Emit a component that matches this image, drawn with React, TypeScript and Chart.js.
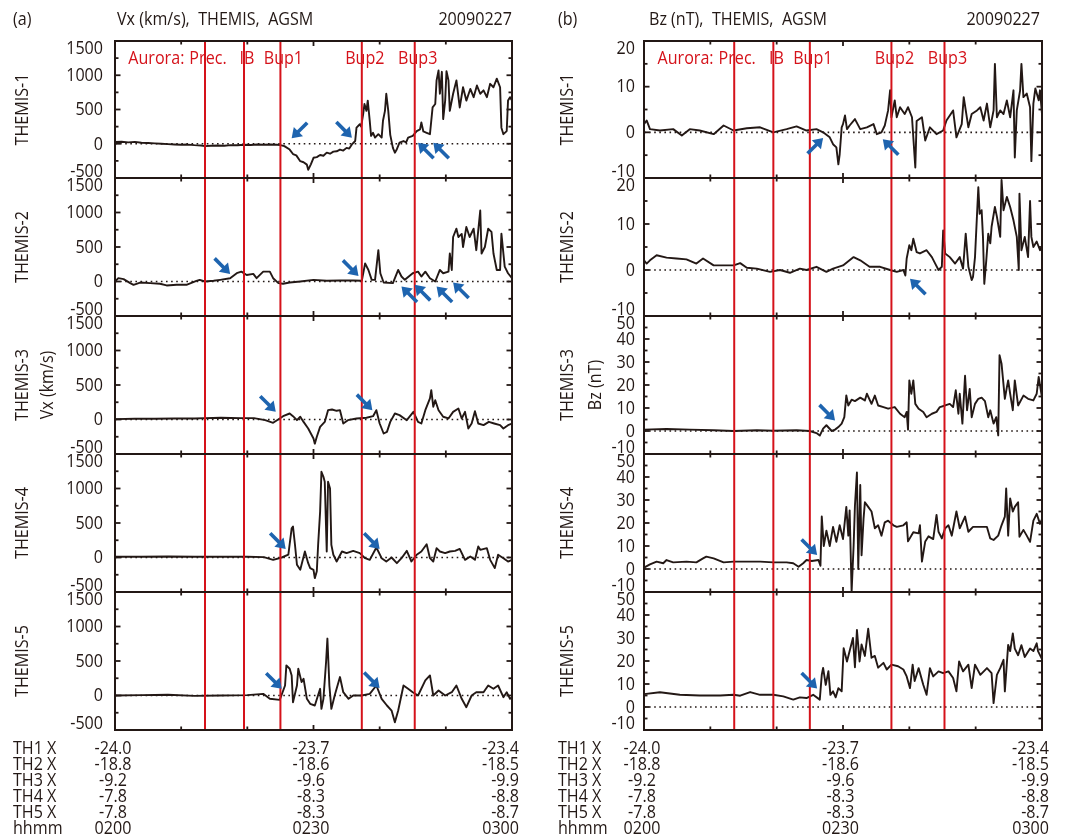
import React, { useEffect, useRef } from 'react';
import { Chart, registerables } from 'chart.js';

Chart.register(...registerables);

type Pair = [number, number];
type Arrow = [number, number, string];

// ---------------- time axis (minutes after 0200 UT) ----------------
const xMajorTicks = [0, 30, 60];
const xMinorTicks = [10, 20, 40, 50];
const hhmmLabels = ['0200', '0230', '0300'];
const th1XLabels = ['-24.0', '-23.7', '-23.4'];
const th2XLabels = ['-18.8', '-18.6', '-18.5'];
const th3XLabels = ['-9.2', '-9.6', '-9.9'];
const th4XLabels = ['-7.8', '-8.3', '-8.8'];
const th5XLabels = ['-7.8', '-8.3', '-8.7'];
const rowNames = ['TH1 X', 'TH2 X', 'TH3 X', 'TH4 X', 'TH5 X', 'hhmm'];

// ---------------- aurora event times ----------------
const eventTimes = [13.6, 19.5, 25.0, 37.3, 45.3];
const eventLabels = ['Prec.', 'IB', 'Bup1', 'Bup2', 'Bup3'];
const eventPrefix = 'Aurora:';

// ---------------- y ticks ----------------
const vxMajor = [-500, 0, 500, 1000, 1500];
const vxMinor = [-250, 250, 750, 1250];
const bzSmallMajor = [-10, 0, 10, 20];
const bzSmallMinor = [-5, 5, 15];
const bzLargeMajor = [-10, 0, 10, 20, 30, 40, 50];
const bzLargeMinor = [-5, 5, 15, 25, 35, 45];

// ---------------- Vx (km/s) ----------------
const vxTH1: Pair[] = [[0,25],[1,30],[2,20],[3,28],[4,15],[5,10],[6,5],[7,0],[8,-5],[9,-10],[10,-15],[11,-12],[12,-20],[13,-25],[13.6,-35],[14.5,-30],[15.5,-25],[16.5,-30],[17.5,-20],[18.5,-22],[19.5,-15],[20.5,-18],[21.5,-12],[22.5,-15],[23.5,-10],[24.5,-15],[25,-20],[25.6,-35],[26.4,-85],[26.9,-150],[27.4,-170],[28,-255],[28.5,-270],[29,-305],[29.2,-380],[29.6,-300],[30,-205],[30.5,-195],[31,-165],[31.5,-175],[32,-130],[32.5,-145],[33,-115],[33.5,-110],[34,-85],[34.5,-100],[35,-60],[35.4,-70],[35.8,-10],[36.3,40],[36.5,235],[37,285],[37.2,250],[37.5,430],[37.7,580],[38,480],[38.2,630],[38.5,335],[38.7,115],[39,160],[39.3,90],[39.8,140],[40.3,90],[40.5,335],[40.8,480],[41,730],[41.3,480],[41.6,130],[42,-60],[42.3,-130],[42.6,-80],[43,15],[43.6,40],[44,20],[44.3,90],[45,115],[45.6,185],[46.1,210],[46.3,310],[46.6,180],[47.1,160],[47.6,140],[48,530],[48.4,580],[48.6,925],[48.9,1070],[49.1,730],[49.4,1050],[49.6,360],[49.9,630],[50.1,1060],[50.4,925],[50.6,480],[51.1,730],[51.6,925],[52.1,530],[52.6,825],[53.1,630],[53.7,800],[54.2,680],[54.7,850],[55.2,730],[55.7,780],[56.2,680],[56.7,875],[57.2,825],[57.7,950],[58.2,825],[58.4,235],[58.7,140],[59.2,185],[59.4,630],[59.7,680],[60,630]];
const vxTH2: Pair[] = [[0,0],[0.5,48],[1.3,35],[2.3,-24],[2.8,-48],[3.8,-15],[5.3,-24],[6.8,-33],[7.8,-57],[9.3,-48],[10.8,-48],[12.3,10],[12.8,24],[13.6,0],[14.9,10],[15.9,24],[17.4,48],[18.4,120],[19.1,143],[19.9,95],[20.9,110],[21.4,48],[22.4,143],[23.4,143],[23.9,48],[24.7,-24],[25.4,-33],[26.4,-15],[28,0],[30,24],[32,10],[34,15],[36,15],[37.3,10],[37.8,263],[38.3,167],[38.8,24],[39.3,24],[39.8,454],[40.1,120],[40.6,-15],[42,-24],[42.8,167],[43.3,72],[43.8,24],[45,120],[45.8,143],[46.3,72],[46.9,143],[47.6,48],[48.4,0],[49.1,167],[49.6,120],[50.4,143],[50.6,406],[50.9,167],[51.1,645],[51.6,765],[51.9,645],[52.4,690],[52.6,500],[53.1,790],[53.6,645],[54.2,765],[54.6,454],[54.9,740],[55.2,1028],[55.4,406],[55.9,500],[56.4,765],[56.9,720],[57.2,406],[57.7,167],[58.2,167],[58.4,693],[58.9,215],[59.4,120],[60,48]];
const vxTH3: Pair[] = [[0,5],[3,10],[6,10],[9,15],[12,15],[13.6,20],[16,25],[19,20],[21,20],[22.7,-10],[23.9,-48],[24.9,15],[25.4,48],[26.4,87],[26.9,48],[27.5,-10],[28,40],[28.5,-35],[29.2,-130],[30,-276],[30.2,-350],[30.5,-250],[31,-107],[31.7,-35],[32.2,135],[32.8,145],[33.5,126],[34,135],[34.5,-58],[35.2,-10],[36.5,15],[38,25],[39,48],[39.5,135],[40,-58],[40.6,-203],[41.1,-180],[41.6,-35],[42.3,87],[43,63],[44.1,-10],[45.1,111],[45.8,-35],[46.3,-58],[46.9,135],[47.6,305],[47.8,426],[48.1,185],[48.4,280],[48.9,135],[49.6,40],[50.4,15],[51.1,111],[51.9,160],[52.4,15],[52.9,111],[53.4,-130],[53.9,-58],[54.4,121],[54.9,-58],[55.7,-82],[56.5,-35],[57.3,-58],[58.2,-82],[58.7,-130],[59.4,-82],[60,-58]];
const vxTH4: Pair[] = [[0,10],[4,10],[8,15],[12,10],[16,10],[20,10],[22.5,5],[23.9,-34],[25.2,0],[26.2,40],[26.7,424],[26.9,448],[27.2,185],[27.5,-106],[28,-178],[28.7,87],[29.2,-82],[29.5,-154],[30,-178],[30.2,-299],[30.5,-200],[30.7,185],[31,665],[31.2,1243],[31.5,1170],[31.7,1099],[32,87],[32.2,1099],[32.5,1000],[32.7,183],[33,40],[33.5,-58],[34.3,87],[35,63],[36,96],[37,63],[37.8,-10],[38.5,-34],[39.5,145],[40.3,-10],[41,-58],[41.8,0],[42.6,-82],[43.3,-10],[44.1,96],[44.8,-58],[45.6,40],[46.3,87],[47.1,193],[47.6,-10],[48.1,-58],[48.6,135],[49.1,87],[49.9,63],[50.6,87],[51.4,96],[52.1,125],[52.9,-34],[53.7,15],[54.4,-34],[54.9,159],[55.2,111],[56.2,135],[56.7,-34],[57.4,-154],[57.9,40],[58.7,-10],[59.4,-58],[60,-34]];
const vxTH5: Pair[] = [[0,0],[4,5],[8,10],[12,-5],[16,0],[20,5],[22.4,24],[23.4,-48],[24.9,-63],[25.7,145],[25.9,437],[26.4,388],[26.7,290],[26.9,-97],[27.5,145],[27.7,388],[28.2,194],[28.5,242],[29,-48],[29.5,-121],[30.2,-145],[31,97],[31.2,-194],[31.5,-48],[31.9,485],[32.1,825],[32.4,145],[32.7,-194],[33.2,0],[34,267],[34.5,48],[35.3,-48],[36,0],[37.3,0],[38.5,24],[39.5,145],[40.3,-48],[41.1,-145],[41.8,-218],[42.3,-388],[42.8,-218],[43.6,145],[44.3,97],[45,48],[45.8,0],[46.9,218],[47.6,291],[48.1,0],[48.9,73],[49.9,0],[50.9,48],[51.6,145],[52.4,-48],[53.1,-170],[53.9,0],[54.6,48],[55.7,48],[56.4,145],[57.2,97],[57.9,145],[58.7,-24],[59.2,48],[59.7,-48],[60,-24]];

// ---------------- Bz (nT) ----------------
const bzTH1: Pair[] = [[0,1.8],[0.4,2.6],[0.9,0.7],[2.4,0.4],[4.4,0.7],[5.7,-0.7],[6.9,0.7],[8.4,0.4],[10.5,-0.4],[12,1.5],[13.5,0.4],[15.5,0.9],[17.5,1.1],[19.5,0],[21.5,0.7],[23,1.3],[24.5,0.4],[26,0.7],[27,0],[28,-1.1],[28.5,-2.6],[29,-3.3],[29.3,-7],[29.5,-4.8],[29.8,1.1],[30,1.8],[30.3,3.7],[30.6,0.7],[31,1.5],[31.8,2.9],[32.6,0.7],[33.6,1.1],[34.6,1.8],[35.1,-0.4],[35.8,0],[36.3,1.5],[36.8,4.8],[37.1,9.2],[37.3,3.3],[37.8,7],[38.1,3.3],[38.6,5.5],[39.3,4],[39.8,5.5],[40.4,3.3],[40.9,-7.7],[41.1,2.5],[41.9,3.3],[42.4,-1.8],[43.1,1.1],[44.1,-0.4],[45.1,0.4],[45.6,2.6],[46.6,4.8],[47.1,-1.1],[47.9,1.8],[48.2,7.7],[48.9,1.1],[49.4,4],[50.2,4.8],[50.7,5.5],[51.2,2.6],[51.7,6.3],[52.2,1.1],[52.7,4.8],[52.9,15],[53.2,3.3],[53.7,4.8],[54.2,4],[54.7,7],[55.2,3.3],[55.7,9.2],[55.9,-5.5],[56.2,4.8],[56.7,9.2],[56.9,15],[57.2,7.7],[57.7,8.5],[58.2,5.5],[58.4,-6.3],[58.7,6.3],[59,9.6],[59.5,7],[59.7,9.2],[60,4]];
const bzTH2: Pair[] = [[0,2.1],[0.4,1.4],[0.9,2.1],[1.9,3.2],[3.4,2.7],[4.9,2.5],[6.4,2.3],[7.9,1.4],[8.9,2.5],[10.5,1],[12,1],[13.5,1],[14.5,1.5],[15.5,0.5],[17,0.3],[19,-0.4],[20.5,0],[22,-0.6],[23.5,0.3],[24.5,0],[26,0.7],[27.5,-0.4],[28.5,0.3],[30,1],[31.6,2.8],[32.6,2.1],[34,0.7],[35.6,0.7],[37.1,0],[38.1,-0.4],[39.1,0],[39.4,-1.2],[39.6,2.5],[40,5.4],[40.3,4.3],[40.6,6.8],[41.1,3.9],[41.6,3.6],[42.6,4.3],[43.4,2.8],[43.9,1.4],[44.4,0],[44.9,0.7],[45.1,8.6],[45.4,3.6],[46.1,2.8],[46.9,1.4],[47.6,2.8],[48.1,0.3],[48.5,7.9],[48.9,0.7],[49.4,-2.2],[49.6,-1.5],[49.9,2.8],[50.4,18],[50.6,12.2],[50.9,13],[51.1,7.2],[51.3,-3],[51.6,2.1],[51.9,7.9],[52.2,5.8],[52.4,9.4],[52.9,13.7],[53.2,11.6],[53.7,7.2],[53.9,19.6],[54.2,13],[54.7,15.9],[55.2,13.7],[55.7,10.8],[56.2,7.2],[56.5,0],[56.6,16.6],[56.9,4.3],[57.4,7.2],[57.9,2.8],[58.2,15],[58.4,7.2],[58.7,5],[59.2,6.2],[59.7,4.3],[60,5]];
const bzTH3: Pair[] = [[0,0.6],[3.4,0.9],[6.9,0.6],[10.5,0.3],[13.5,0],[17,0.3],[19.5,0.1],[23,0.3],[25,0],[26,-0.9],[26.5,-2],[27,1],[27.5,2.5],[28.3,0],[28.8,0.6],[29.3,1.7],[29.8,3.2],[30.2,6],[30.5,15.5],[30.8,11.1],[31.3,13.6],[31.8,13],[32.6,14.5],[33.3,13.3],[33.6,16.2],[34.3,11.8],[34.8,15.4],[35.3,11.1],[36.1,10.4],[36.8,9.7],[37.8,10.4],[38.6,7.5],[39.3,6],[39.6,8.3],[39.8,0.6],[40,22],[40.3,16.2],[40.6,22],[40.9,11.8],[41.4,9.7],[42.1,8.3],[42.6,6],[43.4,7.5],[44.1,8.3],[44.6,10.4],[45.4,11.1],[46.1,11.8],[46.6,10.4],[47,17.7],[47.4,7.5],[47.6,16.2],[48,3.2],[48.4,24],[48.7,9],[49.1,18.3],[49.4,6],[49.9,11.8],[50.4,14],[50.9,14.5],[51.4,13],[51.9,6],[52.2,9],[52.7,3.2],[53.1,6],[53.4,-1.9],[53.6,33],[53.9,29.3],[54.4,14],[54.7,19],[54.9,22],[55.2,16.2],[55.6,9],[55.9,22],[56.4,11.1],[57.2,15.4],[57.9,14],[58.7,13.3],[59.2,16.2],[59.5,23.5],[60,14.5]];
const bzTH4: Pair[] = [[0,0.6],[0.9,2],[1.9,3.2],[2.9,2.5],[3.4,3.9],[4.4,2.9],[6.4,3.2],[7.9,2.9],[8.9,4.6],[9.4,5.4],[10.5,4.6],[12,2.9],[13.5,3.2],[15.5,3.2],[17.5,3.2],[19.5,2.9],[21.5,2.9],[22.5,2.5],[23.3,1],[24,2.5],[24.5,3.9],[25.3,3.5],[26.3,3.9],[26.6,1.4],[26.8,22.8],[27.1,10],[27.5,16.7],[28,10],[28.5,18.3],[29,11.8],[29.5,19],[30,13],[30.5,27],[30.8,14.5],[31,25.5],[31.3,-9.9],[31.6,10.1],[31.8,27.5],[32.1,42],[32.3,0],[32.6,36.5],[32.8,6],[33.1,22],[33.3,29],[33.8,27],[34.3,25],[34.8,17.7],[35.3,19],[35.8,14.5],[36.3,20.3],[36.8,21],[37.6,19],[38.1,18.3],[39.1,19],[39.6,20.3],[39.8,12],[40.6,16],[41.4,15.5],[41.6,19],[41.9,3.2],[42.4,12],[42.9,14.2],[43.6,13],[44.1,23.5],[44.4,16.2],[44.9,13.3],[45.4,17.7],[45.9,19],[46.4,14.5],[47.1,25],[47.6,17.7],[48.4,22.8],[48.9,16.2],[49.6,18.3],[50.7,18.3],[51.7,18.3],[52.2,13.3],[52.7,12.6],[53.4,14.5],[53.9,19],[54.4,22.8],[54.6,35],[54.9,14.5],[55.2,30.7],[55.6,25],[55.9,27],[56.4,29],[56.6,14],[57.2,17],[57.7,14.5],[58.2,11.8],[58.7,21],[59.2,24],[59.7,19.6],[60,21.7]];
const bzTH5: Pair[] = [[0,5.6],[2.4,6.4],[5.4,5.3],[8.4,5],[11.5,5],[13.5,5.3],[14.5,4.9],[16,6.5],[17.5,5.3],[19.5,5.3],[21,4.6],[22.5,3.2],[23.5,4.2],[24.5,3.9],[25.5,5.3],[26.5,3.2],[26.8,14],[27,17],[27.4,9.6],[27.8,15.6],[28.1,5.3],[28.5,6.8],[28.9,4.2],[29.3,8.2],[29.8,6.8],[30.1,25.6],[30.6,19.8],[31,24.3],[31.5,30],[31.8,17.3],[32.1,33.5],[32.5,19.8],[32.8,27.2],[33.3,22.2],[33.8,34],[34.3,21.4],[34.8,22.2],[35.3,17.1],[36.1,19.2],[36.6,16.3],[37.3,18.4],[38.3,17.7],[39.1,16.3],[39.6,13.3],[40.1,8.2],[40.5,18.4],[40.8,11.3],[41.4,16.9],[42.1,9.7],[42.6,5.3],[43.1,16.9],[43.6,13.3],[44.4,15.5],[45.1,14.7],[45.9,15.5],[46.6,12.6],[47.1,6.8],[47.5,19.8],[48.1,15.5],[48.9,18.4],[49.4,8.2],[49.9,18.4],[50.7,14],[51.7,16.9],[52.4,14.7],[52.7,1.7],[53.2,14],[53.7,16.9],[54.2,20.5],[54.4,6.8],[54.9,27],[55.2,24.3],[55.6,32],[55.9,25.4],[56.4,22.5],[56.9,26.9],[57.4,21.7],[58.2,25.4],[58.7,24.3],[59.2,27.7],[59.4,24.3],[60,20.8]];

// ---------------- arrow marks: [minute, value, direction pointed] ----------------
const arrowsVx1: Arrow[] = [[26.7, 79, 'SW'], [35.8, 89, 'SE'], [45.8, 15, 'NW'], [48.1, 15, 'NW']];
const arrowsVx2: Arrow[] = [[17.4, 110, 'SE'], [36.8, 81, 'SE'], [43.3, -72, 'NW'], [45.3, -48, 'NW'], [48.6, -72, 'NW'], [51.1, -14, 'NW']];
const arrowsVx3: Arrow[] = [[24.3, 111, 'SE'], [38.9, 135, 'SE']];
const arrowsVx4: Arrow[] = [[25.8, 125, 'SE'], [40.0, 125, 'SE']];
const arrowsVx5: Arrow[] = [[25.2, 97, 'SE'], [40.0, 107, 'SE']];
const arrowsBz1: Arrow[] = [[27.0, -1.25, 'NE'], [36.0, -1.5, 'NW']];
const arrowsBz2: Arrow[] = [[40.1, -1.9, 'NW']];
const arrowsBz3: Arrow[] = [[28.8, 4.6, 'SE']];
const arrowsBz4: Arrow[] = [[26.1, 6.1, 'SE']];
const arrowsBz5: Arrow[] = [[26.1, 8, 'SE']];

// ---------------- styling / layout ----------------
const FONT_FAMILY = "'Open Sans', 'DejaVu Sans', sans-serif";
const FONT = `18.5px ${FONT_FAMILY}`;
const TEXT_SX = 0.87;
const INK = '#231815';
const RED = '#d5121a';
const BLUE = '#1e64af';
const PANEL_EDGES = [41, 178, 316, 454, 592, 730];
const PAD = 4;
const PAGE_H = 839;

const COLUMNS = [
  { canvasLeft: 0, canvasWidth: 540, plotLeft: 115, plotRight: 512, labelGap: 12, titleXs: [23, 47.5],
    tag: '(a)', tagX: 13, header: 'Vx (km/s),  THEMIS,  AGSM', headerX: 117, dateRight: 512, tableX: 13 },
  { canvasLeft: 540, canvasWidth: 541, plotLeft: 644, plotRight: 1042, labelGap: 9, titleXs: [568, 596],
    tag: '(b)', tagX: 558, header: 'Bz (nT),  THEMIS,  AGSM', headerX: 649, dateRight: 1040, tableX: 558 },
];
const DATE_TEXT = '20090227';

interface PanelSpec {
  col: number; row: number; series: Pair[]; yMin: number; yMax: number;
  major: number[]; minor: number[]; titles: string[]; arrows: Arrow[];
}

const PANELS: PanelSpec[] = [
  { col: 0, row: 0, series: vxTH1, yMin: -500, yMax: 1500, major: vxMajor, minor: vxMinor, titles: ['THEMIS-1'], arrows: arrowsVx1 },
  { col: 0, row: 1, series: vxTH2, yMin: -500, yMax: 1500, major: vxMajor, minor: vxMinor, titles: ['THEMIS-2'], arrows: arrowsVx2 },
  { col: 0, row: 2, series: vxTH3, yMin: -500, yMax: 1500, major: vxMajor, minor: vxMinor, titles: ['THEMIS-3', 'Vx (km/s)'], arrows: arrowsVx3 },
  { col: 0, row: 3, series: vxTH4, yMin: -500, yMax: 1500, major: vxMajor, minor: vxMinor, titles: ['THEMIS-4'], arrows: arrowsVx4 },
  { col: 0, row: 4, series: vxTH5, yMin: -500, yMax: 1500, major: vxMajor, minor: vxMinor, titles: ['THEMIS-5'], arrows: arrowsVx5 },
  { col: 1, row: 0, series: bzTH1, yMin: -10, yMax: 20, major: bzSmallMajor, minor: bzSmallMinor, titles: ['THEMIS-1'], arrows: arrowsBz1 },
  { col: 1, row: 1, series: bzTH2, yMin: -10, yMax: 20, major: bzSmallMajor, minor: bzSmallMinor, titles: ['THEMIS-2'], arrows: arrowsBz2 },
  { col: 1, row: 2, series: bzTH3, yMin: -10, yMax: 50, major: bzLargeMajor, minor: bzLargeMinor, titles: ['THEMIS-3', 'Bz (nT)'], arrows: arrowsBz3 },
  { col: 1, row: 3, series: bzTH4, yMin: -10, yMax: 50, major: bzLargeMajor, minor: bzLargeMinor, titles: ['THEMIS-4'], arrows: arrowsBz4 },
  { col: 1, row: 4, series: bzTH5, yMin: -10, yMax: 50, major: bzLargeMajor, minor: bzLargeMinor, titles: ['THEMIS-5'], arrows: arrowsBz5 },
];

const TABLE_ROWS: string[][] = [th1XLabels, th2XLabels, th3XLabels, th4XLabels, th5XLabels, hhmmLabels];

function geometry(p: PanelSpec) {
  const c = COLUMNS[p.col];
  const top = PANEL_EDGES[p.row];
  const bottom = PANEL_EDGES[p.row + 1];
  const cTop = p.row === 0 ? 0 : top - PAD;
  const cBottom = p.row === 4 ? PAGE_H : bottom + PAD;
  return {
    left: c.canvasLeft, top: cTop, width: c.canvasWidth, height: cBottom - cTop,
    padding: { left: c.plotLeft - c.canvasLeft, right: c.canvasLeft + c.canvasWidth - c.plotRight, top: top - cTop, bottom: cBottom - bottom },
  };
}

function line(ctx: CanvasRenderingContext2D, x1: number, y1: number, x2: number, y2: number) {
  ctx.beginPath();
  ctx.moveTo(x1, y1);
  ctx.lineTo(x2, y2);
  ctx.stroke();
}

function text(ctx: CanvasRenderingContext2D, s: string, x: number, y: number, align: CanvasTextAlign, rotate = false) {
  ctx.save();
  ctx.translate(x, y);
  if (rotate) ctx.rotate(-Math.PI / 2);
  ctx.scale(TEXT_SX, 1);
  ctx.textAlign = align;
  ctx.textBaseline = 'middle';
  ctx.fillText(s, 0, 0);
  ctx.restore();
}

const DIRS: Record<string, [number, number]> = { SE: [1, 1], SW: [-1, 1], NE: [1, -1], NW: [-1, -1] };

function drawArrow(ctx: CanvasRenderingContext2D, tx: number, ty: number, dir: string) {
  const d = DIRS[dir];
  const ux = d[0] / Math.SQRT2, uy = d[1] / Math.SQRT2;
  const len = 22, head = 9.5, half = 6.5;
  const sx = tx - ux * len, sy = ty - uy * len;
  const bx = tx - ux * head, by = ty - uy * head;
  ctx.save();
  ctx.strokeStyle = BLUE;
  ctx.fillStyle = BLUE;
  ctx.lineWidth = 3.6;
  ctx.lineCap = 'butt';
  line(ctx, sx, sy, bx + ux * 1, by + uy * 1);
  ctx.beginPath();
  ctx.moveTo(tx, ty);
  ctx.lineTo(bx - uy * half, by + ux * half);
  ctx.lineTo(bx + uy * half, by - ux * half);
  ctx.closePath();
  ctx.fill();
  ctx.restore();
}

function makePlugin(p: PanelSpec, canvasTop: number) {
  const c = COLUMNS[p.col];
  return {
    id: 'themisDecor',
    beforeDatasetsDraw(chart: any) {
      const { ctx, chartArea: a, scales } = chart;
      const y0 = scales.y.getPixelForValue(0);
      ctx.save();
      ctx.strokeStyle = INK;
      ctx.lineWidth = 1.6;
      ctx.setLineDash([1.6, 3.5]);
      line(ctx, a.left, y0, a.right, y0);
      ctx.restore();
    },
    afterDatasetsDraw(chart: any) {
      const { ctx, chartArea: a, scales } = chart;
      const xs = scales.x, ys = scales.y;
      ctx.save();
      // event lines
      ctx.strokeStyle = RED;
      ctx.lineWidth = 2;
      for (const t of eventTimes) {
        const px = xs.getPixelForValue(t);
        line(ctx, px, a.top, px, a.bottom);
      }
      // frame
      ctx.strokeStyle = INK;
      ctx.lineWidth = 2;
      ctx.strokeRect(a.left, a.top, a.right - a.left, a.bottom - a.top);
      // x ticks (inward, top & bottom)
      ctx.lineWidth = 1.8;
      for (const t of xMajorTicks) {
        const px = xs.getPixelForValue(t);
        line(ctx, px, a.top, px, a.top + 5);
        line(ctx, px, a.bottom, px, a.bottom - 5);
      }
      for (const t of xMinorTicks) {
        const px = xs.getPixelForValue(t);
        line(ctx, px, a.top, px, a.top + 3.5);
        line(ctx, px, a.bottom, px, a.bottom - 3.5);
      }
      // y ticks (inward, left & right)
      for (const v of p.major) {
        const py = ys.getPixelForValue(v);
        line(ctx, a.left, py, a.left + 5.5, py);
        line(ctx, a.right, py, a.right - 5.5, py);
      }
      for (const v of p.minor) {
        const py = ys.getPixelForValue(v);
        line(ctx, a.left, py, a.left + 3.5, py);
        line(ctx, a.right, py, a.right - 3.5, py);
      }
      // y tick labels
      ctx.fillStyle = INK;
      ctx.font = FONT;
      for (const v of p.major) {
        let py = ys.getPixelForValue(v);
        if (v === p.yMax) py += 7.5;
        if (v === p.yMin) py -= 7;
        text(ctx, String(v), a.left - c.labelGap, py + 0.5, 'right');
      }
      // y titles
      const cy = (a.top + a.bottom) / 2;
      p.titles.forEach((txt, i) => {
        text(ctx, txt, c.titleXs[i] - c.canvasLeft, cy, 'center', true);
      });
      // headers and event labels (top row)
      if (p.row === 0) {
        const hy = 19.5 - canvasTop;
        text(ctx, c.tag, c.tagX - c.canvasLeft, hy, 'left');
        text(ctx, c.header, c.headerX - c.canvasLeft, hy, 'left');
        text(ctx, DATE_TEXT, c.dateRight - c.canvasLeft, hy, 'right');

        ctx.fillStyle = RED;
        const ly = 58.5 - canvasTop;
        eventLabels.forEach((lab, i) => {
          const cx = xs.getPixelForValue(eventTimes[i]) + 3;
          text(ctx, lab, cx, ly, 'center');
          if (i === 0) {
            const w = ctx.measureText(lab).width * TEXT_SX;
            text(ctx, eventPrefix, cx - w / 2 - 5, ly, 'right');
          }
        });
      }
      // position table (bottom row)
      if (p.row === 4) {
        ctx.fillStyle = INK;
        TABLE_ROWS.forEach((vals, r) => {
          const ry = 748.5 + 16 * r - canvasTop;
          text(ctx, rowNames[r], c.tableX - c.canvasLeft, ry, 'left');
          text(ctx, vals[0], xs.getPixelForValue(xMajorTicks[0]) - 2, ry, 'center');
          text(ctx, vals[1], xs.getPixelForValue(xMajorTicks[1]) - 2.5, ry, 'center');
          text(ctx, vals[2], xs.getPixelForValue(xMajorTicks[2]) + 7, ry, 'right');
        });
      }
      // arrows
      for (const [t, v, dir] of p.arrows) {
        drawArrow(ctx, xs.getPixelForValue(t), ys.getPixelForValue(v), dir);
      }
      ctx.restore();
    },
  };
}

function Panel({ spec }: { spec: PanelSpec }) {
  const ref = useRef<HTMLCanvasElement>(null);
  const g = geometry(spec);
  useEffect(() => {
    if (!ref.current) return;
    const chart = new Chart(ref.current, {
      type: 'line',
      data: {
        datasets: [{
          data: spec.series.map(([x, y]) => ({ x, y })),
          borderColor: INK,
          borderWidth: 1.9,
          borderJoinStyle: 'round',
          pointRadius: 0,
          tension: 0,
          fill: false,
        }],
      },
      options: {
        responsive: false,
        animation: false,
        events: [],
        devicePixelRatio: 1,
        layout: { padding: g.padding },
        plugins: { legend: { display: false }, tooltip: { enabled: false }, title: { display: false } },
        scales: {
          x: { type: 'linear', min: 0, max: 60, display: false },
          y: { type: 'linear', min: spec.yMin, max: spec.yMax, display: false },
        },
      },
      plugins: [makePlugin(spec, g.top)],
    } as any);
    return () => chart.destroy();
  }, []);
  return (
    <canvas
      ref={ref}
      width={g.width}
      height={g.height}
      style={{ position: 'absolute', left: g.left, top: g.top, width: g.width, height: g.height }}
    />
  );
}

export default function App() {
  return (
    <div style={{ position: 'absolute', left: 0, top: 0, width: 1081, height: 839, background: '#ffffff', overflow: 'hidden' }}>
      {PANELS.map((p, i) => <Panel key={i} spec={p} />)}
    </div>
  );
}
